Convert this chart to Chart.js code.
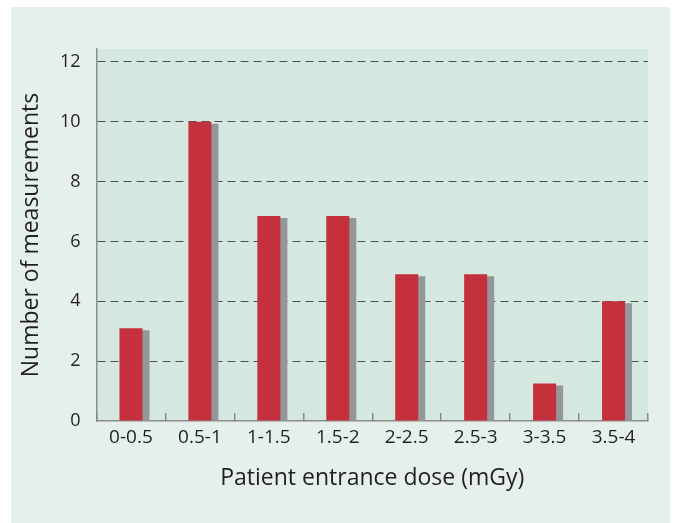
<!DOCTYPE html>
<html>
<head>
<meta charset="utf-8">
<script src="https://cdn.jsdelivr.net/npm/chart.js@4"></script>
<style>
    body { margin: 0; background: #ffffff; }
    #frame { position: absolute; left: 11px; top: 7px; width: 659px; height: 516px; background: #e6f0eb; }
</style>
</head>
<body>
<div id="frame"><canvas id="doseChart"></canvas></div>
<script>
const doseRanges = ["0-0.5", "0.5-1", "1-1.5", "1.5-2", "2-2.5", "2.5-3", "3-3.5", "3.5-4"];
const measurementCounts = [3.1, 10, 6.85, 6.85, 4.9, 4.9, 1.25, 4];
const countTicks = [0, 2, 4, 6, 8, 10, 12];

const textFont = "'Open Sans', sans-serif";

// plot area fill + grey drop shadow behind the bars
const plotStyle = {
    id: "plotStyle",
    beforeDraw(chart) {
        const a = chart.chartArea;
        const ctx = chart.ctx;
        ctx.save();
        ctx.fillStyle = "#d5e8e0";
        ctx.fillRect(a.left, a.top, a.right - a.left, a.bottom - a.top);
        ctx.restore();
    },
    beforeDatasetsDraw(chart) {
        const ctx = chart.ctx;
        ctx.save();
        ctx.shadowColor = "#949699";
        ctx.shadowOffsetX = 7;
        ctx.shadowOffsetY = 2;
        ctx.shadowBlur = 0;
    },
    afterDatasetsDraw(chart) {
        chart.ctx.restore();
    }
};

new Chart(document.getElementById("doseChart"), {
    type: "bar",
    data: {
        labels: doseRanges,
        datasets: [{
            data: measurementCounts,
            backgroundColor: "#c4303c",
            borderWidth: 0,
            barPercentage: 0.334,
            categoryPercentage: 1,
            clip: 0
        }]
    },
    options: {
        responsive: true,
        maintainAspectRatio: false,
        animation: false,
        layout: { padding: { top: 42, right: 22, bottom: 0, left: 0 } },
        plugins: {
            legend: { display: false },
            tooltip: { enabled: false }
        },
        scales: {
            x: {
                afterFit(scale) { scale.height = 102; },
                grid: {
                    display: true,
                    drawOnChartArea: false,
                    drawTicks: true,
                    tickLength: -8,
                    color: "#8c8c8c",
                    lineWidth: 1.5
                },
                border: { display: true, color: "#8c8c8c", width: 1.5 },
                ticks: {
                    color: "#231f20",
                    padding: 13,
                    font: { family: textFont, size: 19 }
                },
                title: {
                    display: true,
                    text: "Patient entrance dose (mGy)",
                    color: "#231f20",
                    font: { family: textFont, size: 23, lineHeight: 1.2 },
                    padding: { top: 0, bottom: 31 }
                }
            },
            y: {
                min: 0,
                max: 12.43,
                afterFit(scale) { scale.width = 85.5; },
                afterBuildTicks(scale) {
                    scale.ticks = countTicks.map(v => ({ value: v }));
                },
                grid: {
                    drawTicks: false,
                    color: ctx => ctx.tick && ctx.tick.value === 0 ? "rgba(0,0,0,0)" : "#4d4f4f",
                    lineWidth: 1
                },
                border: { display: true, color: "#8c8c8c", width: 1.5, dash: [8, 5] },
                ticks: {
                    color: "#231f20",
                    padding: 16,
                    font: { family: textFont, size: 18 }
                },
                title: {
                    display: true,
                    text: "Number of measurements",
                    color: "#231f20",
                    font: { family: textFont, size: 23, lineHeight: 1.2 },
                    padding: { top: 7, bottom: 0 }
                }
            }
        }
    },
    plugins: [plotStyle]
});
</script>
</body>
</html>
